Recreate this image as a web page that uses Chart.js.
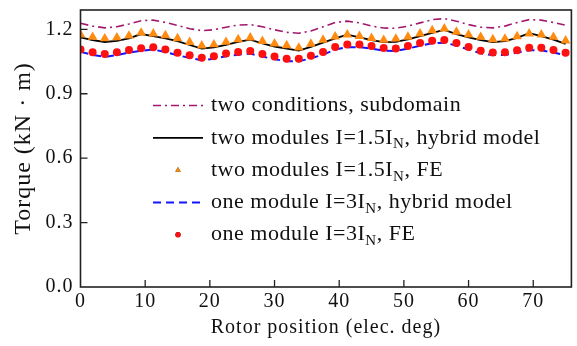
<!DOCTYPE html>
<html>
<head>
<meta charset="utf-8">
<script src="https://cdn.jsdelivr.net/npm/chart.js@4.4.0/dist/chart.umd.min.js"></script>
<style>
html,body{margin:0;padding:0;background:#fff;}
#wrap{position:relative;width:577px;height:346px;}
</style>
</head>
<body>
<div id="wrap"><canvas id="c" width="577" height="346"></canvas></div>
<script>
// ---- data ----
const positions = [0,1.875,3.75,5.625,7.5,9.375,11.25,13.125,15,16.875,18.75,20.625,22.5,24.375,26.25,28.125,30,31.875,33.75,35.625,37.5,39.375,41.25,43.125,45,46.875,48.75,50.625,52.5,54.375,56.25,58.125,60,61.875,63.75,65.625,67.5,69.375,71.25,73.125,75];
const subdomainTwo = [1.228,1.215,1.207,1.212,1.225,1.240,1.243,1.232,1.218,1.203,1.194,1.198,1.210,1.220,1.222,1.212,1.198,1.186,1.182,1.192,1.212,1.232,1.238,1.230,1.215,1.206,1.205,1.215,1.230,1.245,1.250,1.238,1.222,1.210,1.207,1.215,1.232,1.245,1.243,1.232,1.219];
const hybridTwo = [1.163,1.150,1.141,1.146,1.158,1.178,1.168,1.158,1.145,1.127,1.110,1.116,1.128,1.142,1.152,1.134,1.120,1.110,1.101,1.118,1.138,1.158,1.175,1.162,1.150,1.140,1.142,1.153,1.168,1.183,1.197,1.178,1.162,1.150,1.140,1.145,1.160,1.182,1.168,1.152,1.132];
const feTwo = [1.175,1.164,1.157,1.162,1.170,1.184,1.180,1.172,1.158,1.140,1.124,1.129,1.141,1.153,1.161,1.145,1.133,1.125,1.114,1.132,1.151,1.166,1.175,1.168,1.159,1.150,1.156,1.165,1.180,1.195,1.203,1.188,1.175,1.164,1.153,1.156,1.167,1.180,1.175,1.164,1.147];
const hybridOne = [1.095,1.081,1.072,1.080,1.092,1.100,1.106,1.094,1.079,1.067,1.056,1.063,1.075,1.082,1.087,1.073,1.061,1.051,1.051,1.065,1.082,1.106,1.117,1.117,1.110,1.101,1.099,1.110,1.124,1.135,1.138,1.124,1.106,1.088,1.080,1.081,1.091,1.102,1.102,1.092,1.079];
const feOne = [1.106,1.093,1.085,1.093,1.104,1.112,1.117,1.106,1.091,1.079,1.068,1.075,1.087,1.094,1.099,1.085,1.073,1.063,1.063,1.077,1.094,1.118,1.129,1.129,1.122,1.113,1.111,1.122,1.136,1.147,1.150,1.136,1.118,1.100,1.092,1.093,1.103,1.114,1.114,1.104,1.091];
const seriesNames = ['two conditions, subdomain','two modules I=1.5I{N}, hybrid model','two modules I=1.5I{N}, FE','one module I=3I{N}, hybrid model','one module I=3I{N}, FE'];
const xTicks = [0,10,20,30,40,50,60,70];
const yTicks = [0.0,0.3,0.6,0.9,1.2];

const SERIF = '"Liberation Serif","Times New Roman",serif';
const pts = arr => arr.map((v,i)=>({x:positions[i], y:v}));

const styles = [
  {type:'line', color:'#a3186e', width:1.6, dash:[8,4,2,4], order:5},
  {type:'line', color:'#000000', width:1.8, dash:[], order:4},
  {type:'point', color:'#ff8c10', style:'triangle', radius:5.6, order:3},
  {type:'line', color:'#1414ff', width:2, dash:[8,5], order:2},
  {type:'point', color:'#ff1010', style:'circle', radius:4, order:1}
];
const seriesData = [subdomainTwo, hybridTwo, feTwo, hybridOne, feOne];

const datasets = seriesData.map((arr,i)=>{
  const s = styles[i];
  if (s.type==='line') return {label:seriesNames[i], data:pts(arr), borderColor:s.color, borderWidth:s.width, borderDash:s.dash, pointRadius:0, showLine:true, tension:0, fill:false, order:s.order};
  return {label:seriesNames[i], data:pts(arr), borderColor:s.color, backgroundColor:s.color, borderWidth:0, pointStyle:s.style, pointRadius:s.radius, showLine:false, order:s.order};
});

function drawRich(ctx, str, x, y, size){
  const parts = str.split(/(\{[^}]*\})/);
  for (const p of parts){
    if (!p) continue;
    if (p[0]==='{'){
      ctx.font = Math.round(size*0.68)+'px '+SERIF;
      const t = p.slice(1,-1);
      ctx.fillText(t, x, y+size*0.3);
      x += ctx.measureText(t).width;
    } else {
      ctx.font = size+'px '+SERIF;
      ctx.fillText(p, x, y);
      x += ctx.measureText(p).width;
    }
  }
}

const decor = {
  id:'decor',
  beforeDraw(chart){
    chart.ctx.letterSpacing = '1px';
  },
  afterDraw(chart){
    const {ctx, chartArea:a, scales} = chart;
    ctx.save();
    ctx.letterSpacing = '0px';
    // inward ticks
    ctx.strokeStyle='#222'; ctx.lineWidth=1.3;
    ctx.beginPath();
    xTicks.forEach(v=>{ if(v===0) return; const px=scales.x.getPixelForValue(v); ctx.moveTo(px,a.bottom); ctx.lineTo(px,a.bottom-7);});
    yTicks.forEach(v=>{ if(v===0) return; const py=scales.y.getPixelForValue(v); ctx.moveTo(a.left,py); ctx.lineTo(a.left+7,py);});
    ctx.stroke();
    // frame
    ctx.lineWidth=1.6; ctx.strokeStyle='#222';
    ctx.strokeRect(a.left, a.top, a.right-a.left, a.bottom-a.top);
    // legend
    const x0 = 153, x1 = 203, tx = 211;
    ctx.textBaseline='middle'; ctx.fillStyle='#111';
    ctx.letterSpacing = '0.5px';
    seriesNames.forEach((name,i)=>{
      const y = 105.5 + i*32.3;
      const s = styles[i];
      if (s.type==='line'){
        ctx.save();
        ctx.strokeStyle=s.color; ctx.lineWidth=s.width; ctx.setLineDash(s.dash);
        ctx.beginPath(); ctx.moveTo(x0,y); ctx.lineTo(x1,y); ctx.stroke();
        ctx.restore();
      } else {
        Chart.helpers.drawPoint(ctx, {pointStyle:s.style, radius: s.style==='triangle'?3.2:2.6, borderWidth:0}, (x0+x1)/2, y);
        ctx.fillStyle=s.color; ctx.fill();
      }
      ctx.fillStyle='#111';
      drawRich(ctx, name, tx, y, 22);
    });
    ctx.restore();
    ctx.letterSpacing = '0px';
  }
};

new Chart(document.getElementById('c'), {
  type:'scatter',
  data:{datasets},
  options:{
    responsive:false, animation:false,
    layout:{padding:{left:0,right:3,top:10,bottom:0}},
    plugins:{legend:{display:false}, tooltip:{enabled:false}},
    scales:{
      x:{type:'linear', min:0, max:75.9,
        grid:{display:false, drawTicks:false}, border:{display:false},
        ticks:{stepSize:10, includeBounds:false, padding:3, color:'#111', font:{family:SERIF, size:20}, maxRotation:0},
        title:{display:true, text:'Rotor position (elec. deg)', color:'#111', font:{family:SERIF, size:20}, padding:{top:0,bottom:6}},
        afterFit(s){ s.height = 59; s.paddingLeft = 0; s.paddingRight = 0; }
      },
      y:{type:'linear', min:0, max:1.29,
        grid:{display:false, drawTicks:false}, border:{display:false},
        ticks:{stepSize:0.3, includeBounds:false, padding:7, color:'#111', font:{family:SERIF, size:20}, callback:v=>Number(v).toFixed(1)},
        title:{display:true, text:'Torque (kN · m)', color:'#111', font:{family:SERIF, size:24}, padding:{top:9,bottom:0}},
        afterFit(s){ s.width = 80.5; s.paddingTop = 0; s.paddingBottom = 0; }
      }
    }
  },
  plugins:[decor]
});
</script>
</body>
</html>
